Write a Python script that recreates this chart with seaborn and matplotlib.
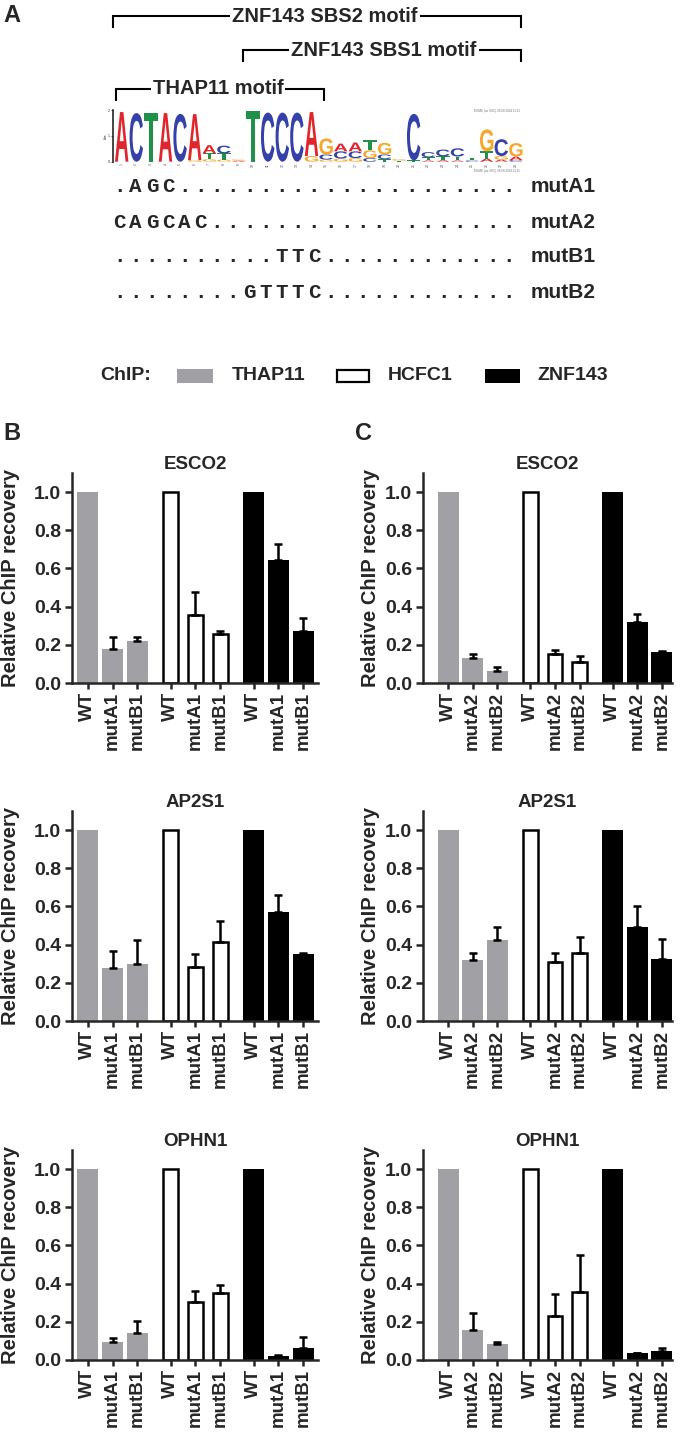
import numpy as np
import pandas as pd
import matplotlib
matplotlib.use("Agg")
import matplotlib.pyplot as plt
import seaborn as sns
from matplotlib.textpath import TextPath
from matplotlib.patches import PathPatch, Rectangle
from matplotlib.transforms import Affine2D
from matplotlib.font_manager import FontProperties
from matplotlib.ticker import FormatStrFormatter

# ---------------- data ----------------
chips = ["THAP11", "HCFC1", "ZNF143"]
genes = ["ESCO2", "AP2S1", "OPHN1"]
conds_B = ["WT", "mutA1", "mutB1"]
conds_C = ["WT", "mutA2", "mutB2"]

# order: THAP11 (WT, mutA, mutB), HCFC1 (...), ZNF143 (...)
B_ESCO2_mean = [1.0, 0.18, 0.222, 1.0, 0.355, 0.258, 1.0, 0.645, 0.273]
B_ESCO2_err = [0.0, 0.06, 0.017, 0.0, 0.12, 0.012, 0.0, 0.083, 0.068]
B_AP2S1_mean = [1.0, 0.276, 0.298, 1.0, 0.283, 0.414, 1.0, 0.571, 0.349]
B_AP2S1_err = [0.0, 0.089, 0.126, 0.0, 0.07, 0.11, 0.0, 0.087, 0.005]
B_OPHN1_mean = [1.0, 0.096, 0.141, 1.0, 0.305, 0.351, 1.0, 0.021, 0.063]
B_OPHN1_err = [0.0, 0.017, 0.063, 0.0, 0.056, 0.043, 0.0, 0.003, 0.059]

C_ESCO2_mean = [1.0, 0.13, 0.062, 1.0, 0.15, 0.112, 1.0, 0.32, 0.16]
C_ESCO2_err = [0.0, 0.02, 0.023, 0.0, 0.023, 0.03, 0.0, 0.04, 0.008]
C_AP2S1_mean = [1.0, 0.321, 0.426, 1.0, 0.311, 0.354, 1.0, 0.494, 0.326]
C_AP2S1_err = [0.0, 0.035, 0.068, 0.0, 0.047, 0.086, 0.0, 0.108, 0.102]
C_OPHN1_mean = [1.0, 0.157, 0.082, 1.0, 0.23, 0.358, 1.0, 0.035, 0.045]
C_OPHN1_err = [0.0, 0.089, 0.014, 0.0, 0.114, 0.192, 0.0, 0.003, 0.02]

mut_names = ["mutA1", "mutA2", "mutB1", "mutB2"]
mut_seqs = [
    ".AGC.....................",
    "CAGCAC...................",
    "..........TTC............",
    "........GTTTC............",
]

# sequence logo: letters bottom->top with heights in bits
logo_letters = ["A", "C", "T", "A", "C", "GA", "GTA", "GTC", "AG", "T", "C", "C", "C", "GA",
                "GCG", "GCA", "GCA", "CGT", "TCG", "TG", "TC", "ATC", "ATC", "ATC", "CT",
                "ATG", "AGC", "CAG"]
logo_heights = [[1.92], [1.88], [1.9], [1.88], [1.85], [0.06, 1.78], [0.1, 0.22, 0.32],
                [0.08, 0.24, 0.3], [0.04, 0.05], [1.95], [1.9], [1.9], [1.9], [0.22, 1.7],
                [0.08, 0.2, 0.62], [0.12, 0.28, 0.3], [0.14, 0.26, 0.34], [0.14, 0.3, 0.4],
                [0.1, 0.18, 0.45], [0.04, 0.06], [0.05, 1.8], [0.05, 0.12, 0.2],
                [0.06, 0.15, 0.26], [0.05, 0.15, 0.32], [0.05, 0.1], [0.12, 0.28, 0.85],
                [0.08, 0.14, 0.65], [0.06, 0.14, 0.52]]
logo_colors = {"A": "#e0262b", "C": "#3341a8", "G": "#f5a82c", "T": "#1f9148"}

# ---------------- style ----------------
sns.set_style("ticks")
plt.rcParams["font.family"] = ["Liberation Sans", "DejaVu Sans"]
plt.rcParams["font.weight"] = "bold"
plt.rcParams["axes.labelweight"] = "bold"
plt.rcParams["axes.titleweight"] = "bold"

W, H = 680, 1437
fig = plt.figure(figsize=(W / 100, H / 100), dpi=100)

# overlay axes in pixel coordinates for annotations
ov = fig.add_axes([0, 0, 1, 1], zorder=-1)
ov.set_xlim(0, W)
ov.set_ylim(H, 0)
ov.axis("off")

LW = 1.8
gray = "#a1a1a5"

# ---------- panel A: brackets ----------
def bracket(x0, x1, y, drop, label, xc):
    ov.plot([x0, x0, x1, x1], [y + drop, y, y, y + drop], color="black", lw=1.5,
            solid_capstyle="butt", solid_joinstyle="miter")
    ov.text(xc, y, label, ha="center", va="center", fontsize=14.5, fontweight="bold",
            bbox=dict(facecolor="white", edgecolor="none", pad=1.5))

ov.text(12, 15, "A", ha="center", va="center", fontsize=17, fontweight="bold")
bracket(113, 521, 16, 12, "ZNF143 SBS2 motif", 325)
bracket(243, 521, 50, 12, "ZNF143 SBS1 motif", 384)
bracket(116, 324, 89, 12, "THAP11 motif", 218)

# ---------- sequence logo ----------
ncol = len(logo_letters)
col_w = 14.6
logo_left, logo_top, logo_bot = 114.4, 110, 161.7
lax = fig.add_axes([logo_left / W, 1 - logo_bot / H, ncol * col_w / W, (logo_bot - logo_top) / H])
lax.set_xlim(-0.5, ncol - 0.5)
lax.set_ylim(0, 2)
for s in ["top", "right", "bottom"]:
    lax.spines[s].set_visible(False)
lax.spines["left"].set_linewidth(1.2)
lax.spines["left"].set_position(("outward", 1))
lax.set_xticks(range(ncol))
lax.set_xticklabels([str(i + 1) for i in range(ncol)], fontsize=2.5, color="#555555",
                    rotation=90, fontweight="normal")
lax.tick_params(axis="x", length=0, pad=1)
lax.set_yticks([0, 1, 2])
lax.set_yticklabels(["0", "1", "2"], fontsize=2.5, fontweight="normal")
lax.tick_params(axis="y", length=1.5, width=0.6, pad=0.5)
lax.set_ylabel("bits", fontsize=2.5, fontweight="normal", labelpad=0.5)
lax.patch.set_alpha(0)

fp = FontProperties(family="Liberation Sans", weight="bold")

def draw_letter(ax, ch, x0, y0, w, h, color):
    tp = TextPath((0, 0), ch, size=1, prop=fp)
    bb = tp.get_extents()
    tr = Affine2D().translate(-bb.x0, -bb.y0).scale(w / bb.width, h / bb.height).translate(x0, y0)
    ax.add_patch(PathPatch(tr.transform_path(tp), facecolor=color, edgecolor="none"))

for i, (letters, heights) in enumerate(zip(logo_letters, logo_heights)):
    base = 0.0
    for ch, hgt in zip(letters, heights):
        draw_letter(lax, ch, i - 0.46, base, 0.92, hgt, logo_colors[ch])
        base += hgt

ov.text(520, 111, "MEME (no SSC) 28.09.2014 11:15", fontsize=2.2, color="#777777",
        ha="right", va="center", fontweight="normal")
ov.text(520, 171, "MEME (no SSC) 28.09.2014 11:15", fontsize=2.2, color="#777777",
        ha="right", va="center", fontweight="normal")

# ---------- mutation rows ----------
row_y = [187, 222, 257, 292]
seq_x0, seq_dx = 119.5, 16.2
for name, seq, y in zip(mut_names, mut_seqs, row_y):
    for k, ch in enumerate(seq):
        ov.text(seq_x0 + k * seq_dx, y, ch, ha="center", va="center", fontsize=15,
                family="Liberation Mono", fontweight="bold")
    ov.text(531, y, name, ha="left", va="center", fontsize=15, fontweight="bold")

# ---------- legend ----------
ly = 376
ov.text(100, ly, "ChIP:", ha="left", va="center", fontsize=14, fontweight="bold")
ov.add_patch(Rectangle((177, ly - 7), 36, 14, facecolor=gray, edgecolor="none"))
ov.text(232, ly, "THAP11", ha="left", va="center", fontsize=14, fontweight="bold")
ov.add_patch(Rectangle((337, ly - 6), 32, 12, facecolor="white", edgecolor="black", lw=1.6))
ov.text(388, ly, "HCFC1", ha="left", va="center", fontsize=14, fontweight="bold")
ov.add_patch(Rectangle((485, ly - 7), 35, 14, facecolor="black", edgecolor="none"))
ov.text(537, ly, "ZNF143", ha="left", va="center", fontsize=14, fontweight="bold")

ov.text(12, 433, "B", ha="center", va="center", fontsize=17, fontweight="bold")
ov.text(363, 433, "C", ha="center", va="center", fontsize=17, fontweight="bold")

# ---------- bar panels ----------
panels = [
    (conds_B, [(B_ESCO2_mean, B_ESCO2_err), (B_AP2S1_mean, B_AP2S1_err), (B_OPHN1_mean, B_OPHN1_err)]),
    (conds_C, [(C_ESCO2_mean, C_ESCO2_err), (C_AP2S1_mean, C_AP2S1_err), (C_OPHN1_mean, C_OPHN1_err)]),
]
col_left = [72, 423]
col_right = [318, 672]
col_xlim = [(-0.64, 9.3), (-1.02, 9.11)]
col_ylab_x = [10, 370]
row_top = [473, 811, 1150]
ax_h = 210
group_step = 3.35

chip_styles = {
    "THAP11": dict(color=gray, edgecolor=gray, linewidth=0, width=0.85),
    "HCFC1": dict(color="white", edgecolor="black", linewidth=LW, width=0.6),
    "ZNF143": dict(color="black", edgecolor="black", linewidth=0, width=0.85),
}

for c, (conds, series) in enumerate(panels):
    for r, gene in enumerate(genes):
        left, right = col_left[c], col_right[c]
        ax = fig.add_axes([left / W, 1 - (row_top[r] + ax_h) / H, (right - left) / W, ax_h / H])
        mean, err = series[r]
        recs = []
        for g, chip in enumerate(chips):
            for j, cond in enumerate(conds):
                k = g * 3 + j
                recs.append(dict(chip=chip, cond=cond, pos=g * group_step + j,
                                 mean=mean[k], err=err[k]))
        df = pd.DataFrame(recs)
        for chip in chips:
            sub = df[df["chip"] == chip]
            sns.barplot(data=sub, x="pos", y="mean", native_scale=True, errorbar=None,
                        saturation=1, ax=ax, zorder=2, **chip_styles[chip])
        eb = df[df["err"] > 0]
        ax.errorbar(eb["pos"], eb["mean"], yerr=[np.zeros(len(eb)), eb["err"]], fmt="none",
                    ecolor="black", elinewidth=LW, capsize=3.2, capthick=LW, zorder=3)
        ax.set_xlim(*col_xlim[c])
        ax.set_ylim(0, 1.1)
        ax.set_yticks(np.arange(0, 1.01, 0.2))
        ax.yaxis.set_major_formatter(FormatStrFormatter("%.1f"))
        ax.set_xticks(df["pos"])
        ax.set_xticklabels(df["cond"], rotation=90, fontsize=13.5, fontweight="bold")
        for lab in ax.get_yticklabels():
            lab.set_fontsize(14)
            lab.set_fontweight("bold")
        ax.tick_params(axis="y", length=5, width=LW, pad=3)
        ax.tick_params(axis="x", length=4.5, width=LW, pad=2)
        for s in ["top", "right"]:
            ax.spines[s].set_visible(False)
        for s in ["left", "bottom"]:
            ax.spines[s].set_linewidth(LW)
        ax.set_xlabel("")
        ax.set_ylabel("Relative ChIP recovery", fontsize=14.5, fontweight="bold", va="center")
        ax.yaxis.set_label_coords((col_ylab_x[c] - left) / (right - left), 0.5)
        ax.set_title(gene, fontsize=13.5, fontweight="bold", pad=1)
        ax.patch.set_alpha(0)

fig.savefig("out.png", dpi=100)
